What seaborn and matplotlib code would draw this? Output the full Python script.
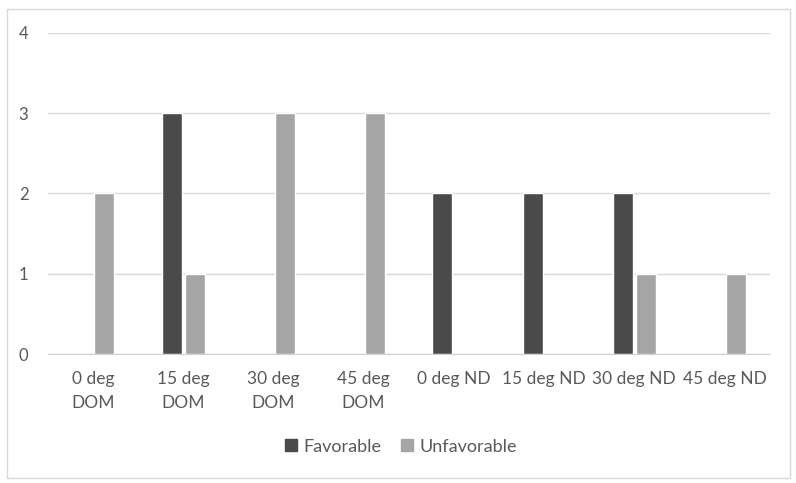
import pandas as pd
import matplotlib.pyplot as plt
import matplotlib.patches as mpatches
import seaborn as sns

#chart data
categories = ['0 deg\nDOM', '15 deg\nDOM', '30 deg\nDOM', '45 deg\nDOM',
              '0 deg ND', '15 deg ND', '30 deg ND', '45 deg ND']
favorable = [0, 3, 0, 0, 2, 2, 2, 0]
unfavorable = [2, 1, 3, 3, 0, 0, 1, 1]
series = ['Favorable', 'Unfavorable']
colors = ['#4a4a4a', '#a5a5a5']

#long format table for seaborn
df = pd.DataFrame({
    'cat': categories * 2,
    'value': favorable + unfavorable,
    'series': ['Favorable'] * len(categories) + ['Unfavorable'] * len(categories),
})

sns.set_style("white")
plt.rcParams['font.family'] = ['Lato', 'DejaVu Sans']

fig = plt.figure(figsize=(7.96, 4.83), dpi=100)
ax = fig.add_axes([0.060, 0.267, 0.907, 0.665])

sns.barplot(data=df, x='cat', y='value', hue='series', hue_order=series,
            palette=colors, order=categories, width=0.51, gap=0.13,
            saturation=1, ax=ax, legend=False)

#axes styling, excel look
ax.set_ylim(0, 4)
ax.set_yticks([0, 1, 2, 3, 4])
ax.set_xlim(-0.5, len(categories) - 0.5)
ax.yaxis.grid(True, color='#d9d9d9', linewidth=1)
ax.set_axisbelow(True)
for s in ['top', 'right', 'left']:
    ax.spines[s].set_visible(False)
ax.spines['bottom'].set_color('#d0d0d0')
ax.tick_params(axis='both', length=0, colors='#595959')
ax.tick_params(axis='y', pad=14, labelsize=12)
ax.tick_params(axis='x', pad=12, labelsize=12.5)
for t in ax.get_xticklabels():
    t.set_linespacing(1.6)
ax.set_xlabel('')
ax.set_ylabel('')

#legend below
handles = [mpatches.Patch(color=c, label=l) for c, l in zip(colors, series)]
fig.legend(handles=handles, loc='center', bbox_to_anchor=(0.504, 0.075), ncol=2,
           frameon=False, fontsize=13, handlelength=0.65, handleheight=0.65,
           handletextpad=0.35, columnspacing=1.1, labelcolor='#595959')

#outer chart border
fig.patches.append(mpatches.Rectangle((0.009, 0.010), 0.984, 0.972, transform=fig.transFigure,
                                      fill=False, edgecolor='#d9d9d9', linewidth=1))

plt.savefig('out.png', dpi=100)
